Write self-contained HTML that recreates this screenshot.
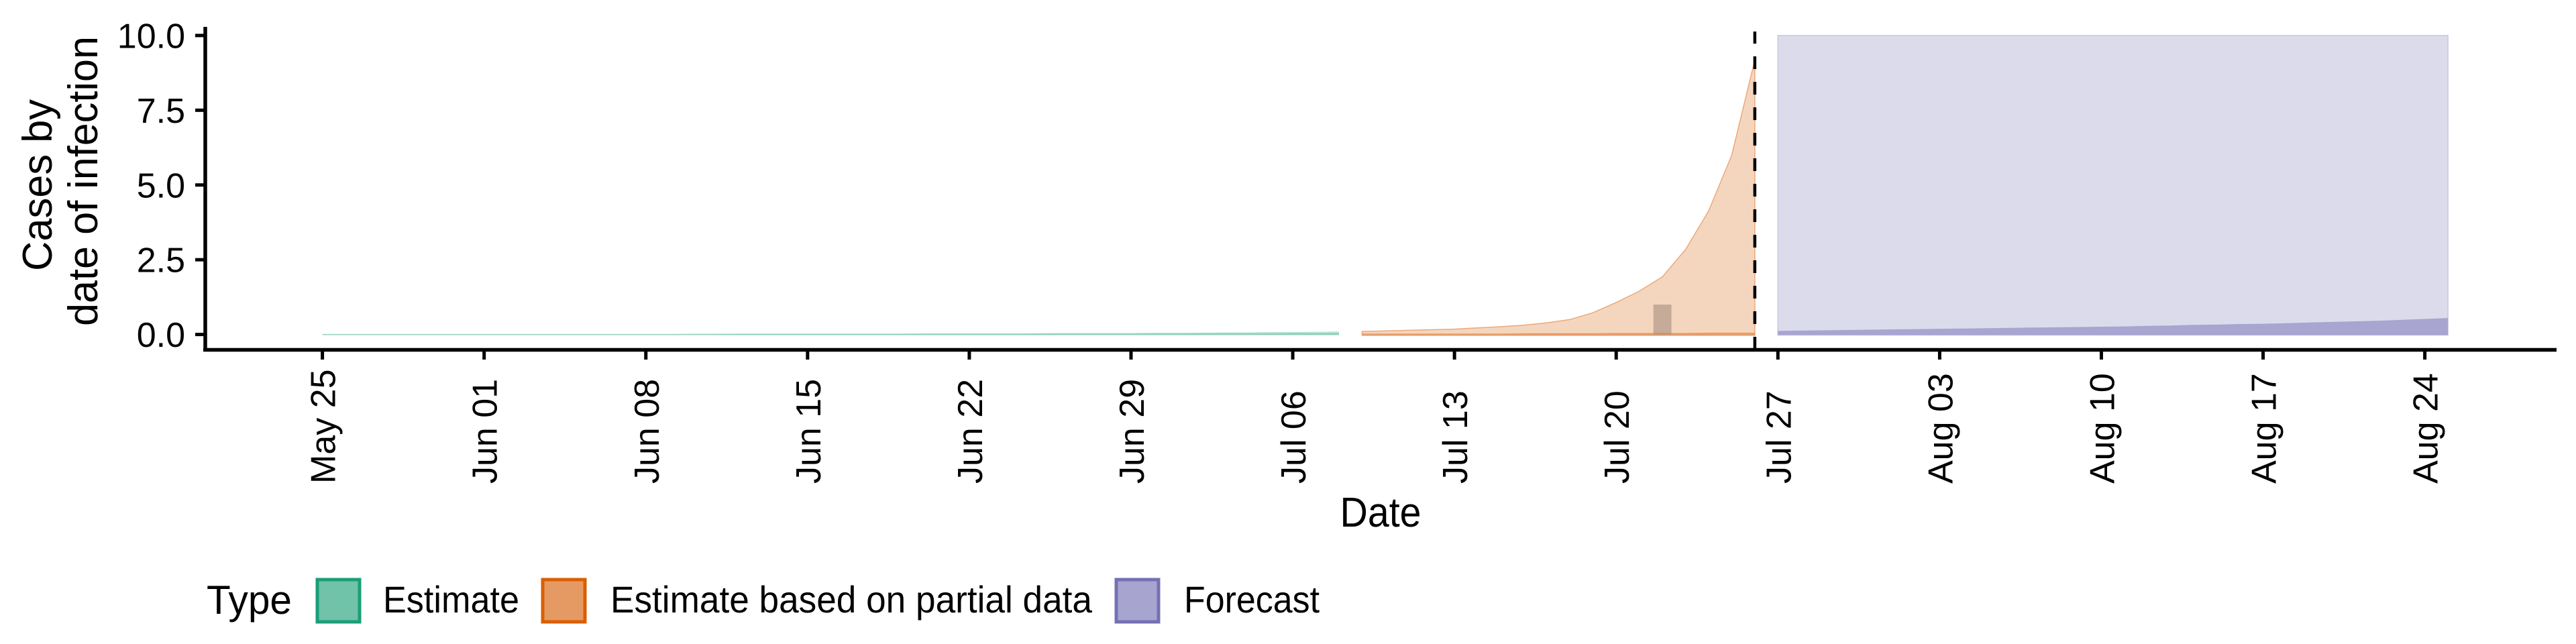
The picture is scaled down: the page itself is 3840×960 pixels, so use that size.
<!DOCTYPE html>
<html>
<head>
<meta charset="utf-8">
<style>
html,body{margin:0;padding:0;background:#ffffff;}
svg{display:block;}
text{font-family:"Liberation Sans",sans-serif;fill:#000;}
</style>
</head>
<body>
<svg id="chart" xmlns="http://www.w3.org/2000/svg" width="3840" height="960" viewBox="0 0 3840 960">
  <rect x="0" y="0" width="3840" height="960" fill="#ffffff"/>
  <g id="plot"></g>
  <g id="axes"></g>
  <text transform="translate(77,276) rotate(-90)" text-anchor="middle" font-size="62" textLength="256" lengthAdjust="spacingAndGlyphs">Cases by</text>
  <text transform="translate(145,270) rotate(-90)" text-anchor="middle" font-size="62" textLength="432" lengthAdjust="spacingAndGlyphs">date of infection</text>
  <text x="2058" y="785" text-anchor="middle" font-size="62" textLength="121" lengthAdjust="spacingAndGlyphs">Date</text>
  <g>
    <text x="308" y="915" font-size="60" textLength="127" lengthAdjust="spacingAndGlyphs">Type</text>
    <rect x="473" y="864" width="63" height="63" fill="#70c2a8" stroke="#1b9e77" stroke-width="5"/>
    <text x="571" y="913" font-size="56" textLength="203" lengthAdjust="spacingAndGlyphs">Estimate</text>
    <rect x="809" y="864" width="63" height="63" fill="#e69a63" stroke="#d95f02" stroke-width="5"/>
    <text x="910" y="913" font-size="56" textLength="718" lengthAdjust="spacingAndGlyphs">Estimate based on partial data</text>
    <rect x="1664" y="864" width="63" height="63" fill="#a7a5d0" stroke="#7570b3" stroke-width="5"/>
    <text x="1765" y="913" font-size="56" textLength="202" lengthAdjust="spacingAndGlyphs">Forecast</text>
  </g>
</svg>
<script>
// ---- data ----
const tickLabels = ["May 25","Jun 01","Jun 08","Jun 15","Jun 22","Jun 29","Jul 06","Jul 13","Jul 20","Jul 27","Aug 03","Aug 10","Aug 17","Aug 24"];
const tickDays = [0,7,14,21,28,35,42,49,56,63,70,77,84,91];
const yTicks = [0, 2.5, 5, 7.5, 10];
const yTickLabels = ["0.0","2.5","5.0","7.5","10.0"];

const estimateStart = 0;
const estimateOuter = [0.02,0.02,0.02,0.02,0.02,0.02,0.02,0.02,0.02,0.02,0.02,0.02,0.02,0.02,0.02,0.02,0.03,0.03,0.03,0.03,0.03,0.03,0.03,0.03,0.03,0.03,0.04,0.04,0.04,0.04,0.04,0.04,0.05,0.05,0.05,0.05,0.06,0.06,0.06,0.07,0.07,0.08,0.08,0.09,0.10];
const estimateInner = [0.01,0.01,0.01,0.01,0.01,0.01,0.01,0.01,0.01,0.01,0.01,0.01,0.01,0.01,0.01,0.01,0.01,0.01,0.02,0.02,0.02,0.02,0.02,0.02,0.02,0.02,0.02,0.02,0.02,0.02,0.02,0.03,0.03,0.03,0.03,0.03,0.03,0.03,0.04,0.04,0.04,0.04,0.05,0.05,0.05];

const partialStart = 45;
const partialOuter = [0.10,0.12,0.14,0.16,0.18,0.22,0.26,0.31,0.39,0.50,0.73,1.07,1.45,1.93,2.84,4.13,5.99,9.18];
const partialInner = [0.03,0.03,0.03,0.03,0.03,0.03,0.03,0.04,0.04,0.04,0.04,0.05,0.05,0.05,0.05,0.06,0.06,0.06];

const forecastStart = 63;
const forecastOuter = [10,10,10,10,10,10,10,10,10,10,10,10,10,10,10,10,10,10,10,10,10,10,10,10,10,10,10,10,10,10];
const forecastInner = [0.12,0.13,0.14,0.15,0.16,0.17,0.18,0.19,0.20,0.21,0.22,0.23,0.24,0.25,0.26,0.27,0.29,0.30,0.32,0.33,0.35,0.36,0.38,0.40,0.42,0.44,0.46,0.49,0.52,0.55];

const reportedDays = [58];
const reportedValues = [1];
const forecastLineDay = 62;

// ---- scales ----
const X0 = 480.6, PX_PER_DAY = 34.44;
const Y0 = 498.6, PX_PER_UNIT = 44.57;
function xScale(d){ return X0 + d*PX_PER_DAY; }
function yScale(v){ return Y0 - v*PX_PER_UNIT; }

const NS = "http://www.w3.org/2000/svg";
const plot = document.getElementById('plot');
const axes = document.getElementById('axes');
function mk(tag, attrs, parent){
  const e = document.createElementNS(NS, tag);
  for (const k in attrs) e.setAttribute(k, attrs[k]);
  parent.appendChild(e);
  return e;
}

function ribbon(start, upper, lowerVal, fill, name, stroke){
  let pts = [];
  for (let i=0;i<upper.length;i++) pts.push(xScale(start+i).toFixed(1)+","+yScale(upper[i]).toFixed(1));
  for (let i=upper.length-1;i>=0;i--) pts.push(xScale(start+i).toFixed(1)+","+yScale(lowerVal).toFixed(1));
  const p = mk('polygon', {points: pts.join(' '), fill: fill, stroke: stroke || 'none', 'stroke-width': stroke ? 1.5 : 0}, plot);
  
  
}

ribbon(estimateStart, estimateOuter, -0.02, '#bfe6d6', 'estimate-outer-ribbon');
ribbon(estimateStart, estimateInner, -0.02, '#8fd0b9', 'estimate-inner-ribbon');
ribbon(partialStart, partialOuter, -0.03, '#f4d6bf', 'partial-outer-ribbon', '#eda877');
ribbon(partialStart, partialInner, -0.03, '#e89c66', 'partial-inner-ribbon');
ribbon(forecastStart, forecastOuter, -0.02, '#dcdbeb', 'forecast-outer-ribbon', '#c8c6e2');
ribbon(forecastStart, forecastInner, -0.02, '#a8a5d1', 'forecast-inner-ribbon');

// reported case bars
for (let i=0;i<reportedDays.length;i++){
  const w = 0.78*PX_PER_DAY;
  const r = mk('rect', {x: xScale(reportedDays[i]) - w/2, y: yScale(reportedValues[i]), width: w, height: yScale(0)-yScale(reportedValues[i]), fill:'#a08878', 'fill-opacity':0.55}, plot);
  
  
}

// forecast divider
const dl = mk('line', {x1: xScale(forecastLineDay), x2: xScale(forecastLineDay), y1: 47, y2: 521, stroke:'#000', 'stroke-width':4.5, 'stroke-dasharray':'19 19', 'stroke-dashoffset':'1'}, plot);



// axes lines
const ya = mk('line', {x1:306, x2:306, y1:40, y2:524, stroke:'#000', 'stroke-width':5.5}, axes);


const xa = mk('line', {x1:303, x2:3811, y1:521.5, y2:521.5, stroke:'#000', 'stroke-width':5.5}, axes);



// y ticks
for (let i=0;i<yTicks.length;i++){
  const y = yScale(yTicks[i]);
  const t = mk('line', {x1:291, x2:306, y1:y, y2:y, stroke:'#000', 'stroke-width':5}, axes);
  
  
  const l = mk('text', {x:276, y:y+18.5, 'text-anchor':'end', 'font-size':52}, axes);
  l.textContent = yTickLabels[i];
  
  
}

// x ticks
for (let i=0;i<tickDays.length;i++){
  const x = xScale(tickDays[i]);
  const t = mk('line', {x1:x, x2:x, y1:521, y2:536, stroke:'#000', 'stroke-width':5}, axes);
  
  
  const l = mk('text', {transform:'translate('+(x+19)+',721) rotate(-90)', 'text-anchor':'start', 'font-size':52}, axes);
  l.textContent = tickLabels[i];
  
  
}
</script>
</body>
</html>
